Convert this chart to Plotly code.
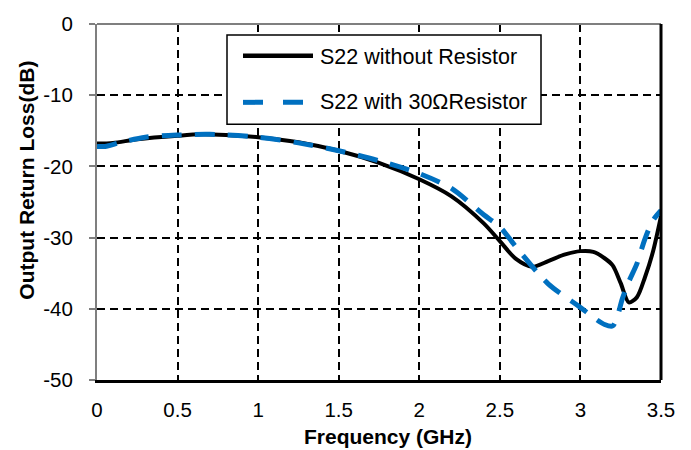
import plotly.graph_objects as go

# ---- data ----
freq_no_res = [0, 0.1, 0.25, 0.5, 0.65, 0.8, 1.0, 1.25, 1.5, 1.75, 2.0, 2.2, 2.4, 2.5,
               2.6, 2.7, 2.8, 2.9, 3.0, 3.08, 3.15, 3.2, 3.25, 3.3, 3.35, 3.4, 3.45, 3.5]
s22_no_res = [-16.8, -16.7, -16.2, -15.7, -15.5, -15.6, -15.9, -16.6, -17.8, -19.5, -21.8,
              -24.2, -28.0, -30.5, -33.0, -34.1, -33.3, -32.4, -31.9, -32.0, -32.9, -33.9,
              -36.4, -39.1, -38.4, -35.6, -32.0, -27.0]

freq_res = [0, 0.05, 0.15, 0.3, 0.5, 0.7, 1.0, 1.25, 1.5, 1.75, 2.0, 2.2, 2.4, 2.5, 2.6,
            2.8, 3.0, 3.08, 3.15, 3.2, 3.23, 3.26, 3.3, 3.35, 3.4, 3.45, 3.5]
s22_res = [-17.2, -17.2, -16.6, -15.9, -15.6, -15.5, -15.9, -16.7, -17.8, -19.2, -21.0,
           -23.1, -26.8, -28.5, -31.3, -36.5, -39.8, -41.2, -42.2, -42.4, -41.0, -38.6,
           -36.2, -33.7, -30.2, -27.6, -26.2]

x_ticks = [0, 0.5, 1, 1.5, 2, 2.5, 3, 3.5]
x_tick_labels = ["0", "0.5", "1", "1.5", "2", "2.5", "3", "3.5"]
y_ticks = [0, -10, -20, -30, -40, -50]
y_tick_labels = ["0", "-10", "-20", "-30", "-40", "-50"]

names = ["S22 without Resistor", "S22 with 30ΩResistor"]
x_title = "Frequency (GHz)"
y_title = "Output Return Loss(dB)"

BLUE = "#0070C0"
FONT = "Arial, Liberation Sans, sans-serif"

W, H = 691, 450
L, R, T, B = 97, 30, 21, 70
PW, PH = W - L - R, H - T - B


def px(xp):
    return (xp - L) / PW


def py(yp):
    return (H - B - yp) / PH


fig = go.Figure()
fig.add_trace(go.Scatter(x=freq_no_res, y=s22_no_res, mode="lines", name=names[0],
                         line=dict(color="black", width=4, shape="spline", smoothing=0.8),
                         showlegend=False))
fig.add_trace(go.Scatter(x=freq_res, y=s22_res, mode="lines", name=names[1],
                         line=dict(color=BLUE, width=5, dash="20px,13px", shape="spline",
                                   smoothing=0.8),
                         showlegend=False))

shapes = [
    # frame: top grey, right black
    dict(type="line", xref="paper", yref="paper", x0=0, x1=1, y0=1, y1=1,
         line=dict(color="#7f7f7f", width=2), layer="above"),
    dict(type="line", xref="paper", yref="paper", x0=1, x1=1, y0=0, y1=1,
         line=dict(color="black", width=3), layer="above"),
    # legend box
    dict(type="rect", xref="paper", yref="paper", x0=px(227), x1=px(541), y0=py(122), y1=py(32),
         line=dict(color="black", width=1.5), fillcolor="white", layer="above"),
    dict(type="line", xref="paper", yref="paper", x0=px(243), x1=px(313), y0=py(53), y1=py(53),
         line=dict(color="black", width=4.5), layer="above"),
    dict(type="line", xref="paper", yref="paper", x0=px(243), x1=px(313), y0=py(100), y1=py(100),
         line=dict(color=BLUE, width=5, dash="20px,20px"), layer="above"),
]

annotations = [
    dict(text=names[0], xref="paper", yref="paper", x=px(318), y=py(54), xanchor="left",
         yanchor="middle", showarrow=False, font=dict(family=FONT, size=21.5, color="black")),
    dict(text=names[1], xref="paper", yref="paper", x=px(318), y=py(100), xanchor="left",
         yanchor="middle", showarrow=False, font=dict(family=FONT, size=21.5, color="black")),
    dict(text="<b>" + x_title + "</b>", xref="paper", yref="paper", x=px(388), y=py(437),
         xanchor="center", yanchor="middle", showarrow=False,
         font=dict(family=FONT, size=21, color="black")),
    dict(text="<b>" + y_title + "</b>", xref="paper", yref="paper", x=px(27), y=py(179),
         xanchor="center", yanchor="middle", showarrow=False, textangle=-90,
         font=dict(family=FONT, size=21, color="black")),
]

fig.update_layout(
    width=W, height=H,
    margin=dict(l=L, r=R, t=T, b=B, pad=0),
    paper_bgcolor="white", plot_bgcolor="white",
    font=dict(family=FONT, size=20, color="black"),
    shapes=shapes, annotations=annotations,
    xaxis=dict(range=[0, 3.5], tickvals=x_ticks, ticktext=x_tick_labels,
               showgrid=True, gridcolor="black", gridwidth=1.5, griddash="8px,5px",
               showline=True, linecolor="black", linewidth=3,
               ticks="inside", ticklen=5, tickcolor="black", tickwidth=1.5,
               zeroline=False, ticklabelstandoff=9,
               tickfont=dict(family=FONT, size=20.5, color="black")),
    yaxis=dict(range=[-50, 0], tickvals=y_ticks, ticktext=y_tick_labels,
               showgrid=True, gridcolor="black", gridwidth=1.5, griddash="8px,5px",
               showline=True, linecolor="#7f7f7f", linewidth=2,
               ticks="outside", ticklen=6, tickcolor="#7f7f7f", tickwidth=1.5,
               zeroline=False, ticklabelstandoff=12,
               tickfont=dict(family=FONT, size=20.5, color="black")),
)

fig.write_html("out.html")
